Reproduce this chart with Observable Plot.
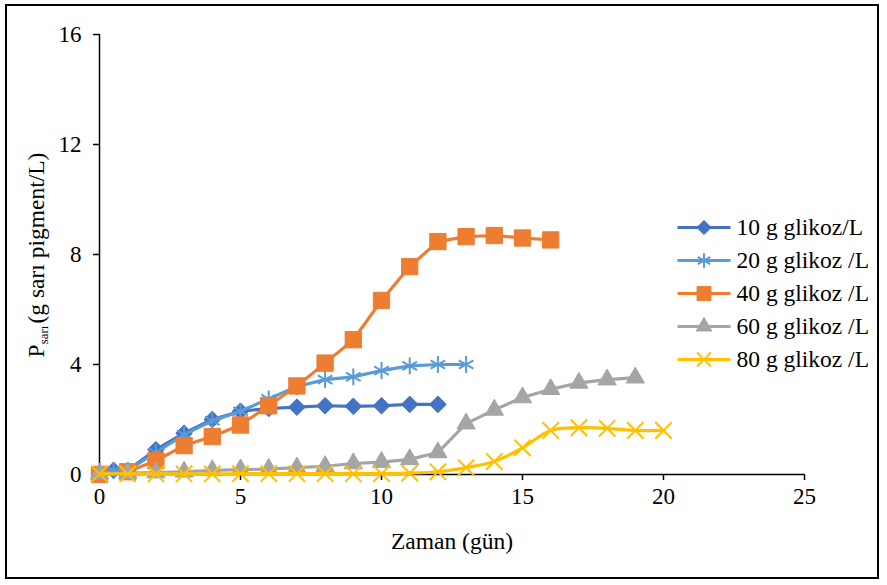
<!DOCTYPE html>
<html>
<head>
<meta charset="utf-8">
<script src="https://cdn.jsdelivr.net/npm/d3@7"></script>
<script src="https://cdn.jsdelivr.net/npm/@observablehq/plot@0.6"></script>
<style>
  html, body { margin: 0; padding: 0; background: #fff; }
  #wrap { position: relative; width: 887px; height: 585px; overflow: hidden; font-family: "Liberation Serif", "Times New Roman", serif; }
  #frame { position: absolute; left: 5px; top: 4px; width: 874px; height: 575px; border: 2px solid #000; box-sizing: border-box; pointer-events: none; }
  #ytitle { position: absolute; left: 37px; top: 255px; transform: translate(-50%, -50%) rotate(-90deg); white-space: nowrap; font-size: 23.5px; color: #000; }
  #ytitle sub { font-size: 13px; vertical-align: -4px; margin-right: 2px; }
  #legend { position: absolute; left: 670px; top: 188px; }
  #chart { position: absolute; left: 0; top: 0; }
</style>
</head>
<body>
<div id="wrap">
  <div id="chart"></div>
  <div id="legend"></div>
  <div id="ytitle">P<sub>sarı</sub>(g sarı pigment/L)</div>
  <div id="frame"></div>
</div>
<script>
// ---- data ----
const seriesNames = ["10 g glikoz/L", "20 g glikoz /L", "40 g glikoz /L", "60 g glikoz /L", "80 g glikoz /L"];
const seriesColors = ["#4472C4", "#5B9BD5", "#ED7D31", "#A5A5A5", "#FFC000"];

const days10 = [0, 0.5, 1, 2, 3, 4, 5, 6, 7, 8, 9, 10, 11, 12];
const p10 = [0.05, 0.15, 0.15, 0.9, 1.5, 2.0, 2.3, 2.4, 2.45, 2.5, 2.48, 2.5, 2.55, 2.55];

const days20 = [0, 0.5, 1, 2, 3, 4, 5, 6, 7, 8, 9, 10, 11, 12, 13];
const p20 = [0.05, 0.15, 0.15, 0.8, 1.45, 1.95, 2.3, 2.75, 3.2, 3.45, 3.55, 3.78, 3.95, 4.0, 4.0];

const days40 = [0, 1, 2, 3, 4, 5, 6, 7, 8, 9, 10, 11, 12, 13, 14, 15, 16];
const p40 = [0, 0.1, 0.5, 1.05, 1.38, 1.8, 2.5, 3.22, 4.05, 4.9, 6.33, 7.56, 8.47, 8.65, 8.69, 8.6, 8.53];

const days60 = [0, 1, 2, 3, 4, 5, 6, 7, 8, 9, 10, 11, 12, 13, 14, 15, 16, 17, 18, 19];
const p60 = [0.03, 0.05, 0.07, 0.1, 0.15, 0.18, 0.2, 0.25, 0.3, 0.4, 0.45, 0.55, 0.8, 1.85, 2.35, 2.8, 3.1, 3.33, 3.45, 3.52];

const days80 = [0, 1, 2, 3, 4, 5, 6, 7, 8, 9, 10, 11, 12, 13, 14, 15, 16, 17, 18, 19, 20];
const p80 = [0.02, 0.02, 0.02, 0.02, 0.02, 0.03, 0.03, 0.03, 0.03, 0.03, 0.03, 0.05, 0.1, 0.25, 0.47, 0.97, 1.6, 1.7, 1.68, 1.6, 1.6];

const xTicks = [0, 5, 10, 15, 20, 25];
const yTicks = [0, 4, 8, 12, 16];
const xLabel = "Zaman (gün)";

// ---- build table ----
const allDays = [days10, days20, days40, days60, days80];
const allVals = [p10, p20, p40, p60, p80];
const rows = [];
allDays.forEach((ds, i) => ds.forEach((d, j) => rows.push({day: d, p: allVals[i][j], s: seriesNames[i]})));

const markerOpts = [
  {symbol: "diamond2", r: 7.5, fillOn: true, sw: 1},
  {symbol: "asterisk", r: 8, fillOn: false, sw: 2},
  {symbol: "square", r: 9.2, fillOn: true, sw: 1},
  {symbol: "triangle", r: 6.8, fillOn: true, sw: 1},
  {symbol: "times", r: 7.5, fillOn: false, sw: 2}
];

const seriesMarks = [];
seriesNames.forEach((name, i) => {
  const data = rows.filter(r => r.s === name);
  const c = seriesColors[i];
  const m = markerOpts[i];
  seriesMarks.push(Plot.line(data, {x: "day", y: "p", stroke: c, strokeWidth: 3.2, curve: i === 4 ? "catmull-rom" : "linear"}));
  seriesMarks.push(Plot.dot(data, {x: "day", y: "p", symbol: () => m.symbol, r: m.r,
    fill: m.fillOn ? c : "none", stroke: c, strokeWidth: m.sw}));
});

const fontFamily = '"Liberation Serif", "Times New Roman", serif';

const chart = Plot.plot({
  width: 887,
  height: 585,
  marginLeft: 99,
  marginRight: 83,
  marginTop: 34,
  marginBottom: 111,
  style: {fontFamily, fontSize: "23px", color: "#000", background: "transparent"},
  x: {domain: [0, 25], ticks: xTicks},
  y: {domain: [0, 16], ticks: yTicks},
  symbol: {type: "identity"},
  marks: [
    Plot.axisX({ticks: xTicks, tickSize: 6, tickPadding: 7, label: null, fontSize: 23, stroke: "#000", strokeWidth: 1.5}),
    Plot.axisY({ticks: yTicks, tickSize: 6, tickPadding: 12, label: null, fontSize: 23, stroke: "#000", strokeWidth: 1.5}),
    Plot.ruleY([0], {stroke: "#000", strokeWidth: 1.5}),
    Plot.ruleX([0], {stroke: "#000", strokeWidth: 1.5}),
    ...seriesMarks,
    Plot.text([xLabel], {frameAnchor: "bottom", text: d => d, dy: 67, lineAnchor: "middle", fontSize: 23.5, fill: "#000"})
  ]
});
document.getElementById("chart").appendChild(chart);

// ---- legend ----
const legendMarks = [
  Plot.link(seriesNames, {x1: () => 0, x2: () => 1, y1: d => d, y2: d => d, stroke: (d, i) => seriesColors[i], strokeWidth: 3.2})
];
seriesNames.forEach((name, i) => {
  const m = markerOpts[i];
  const c = seriesColors[i];
  legendMarks.push(Plot.dot([name], {x: () => 0.5, y: d => d, symbol: () => m.symbol, r: m.r * 0.85,
    fill: m.fillOn ? c : "none", stroke: c, strokeWidth: m.sw}));
});
legendMarks.push(Plot.text(seriesNames, {x: () => 1, y: d => d, text: d => d, dx: 6, textAnchor: "start", lineAnchor: "middle", fontSize: 23.5, fill: "#000"}));

const legend = Plot.plot({
  width: 217,
  height: 210,
  margin: 0,
  style: {fontFamily, background: "transparent", overflow: "visible"},
  x: {domain: [0, 1], range: [7, 60], axis: null},
  y: {type: "point", domain: seriesNames, range: [21, 189], axis: null},
  symbol: {type: "identity"},
  color: {type: "identity"},
  marks: legendMarks
});
document.getElementById("legend").appendChild(legend);
</script>
</body>
</html>
